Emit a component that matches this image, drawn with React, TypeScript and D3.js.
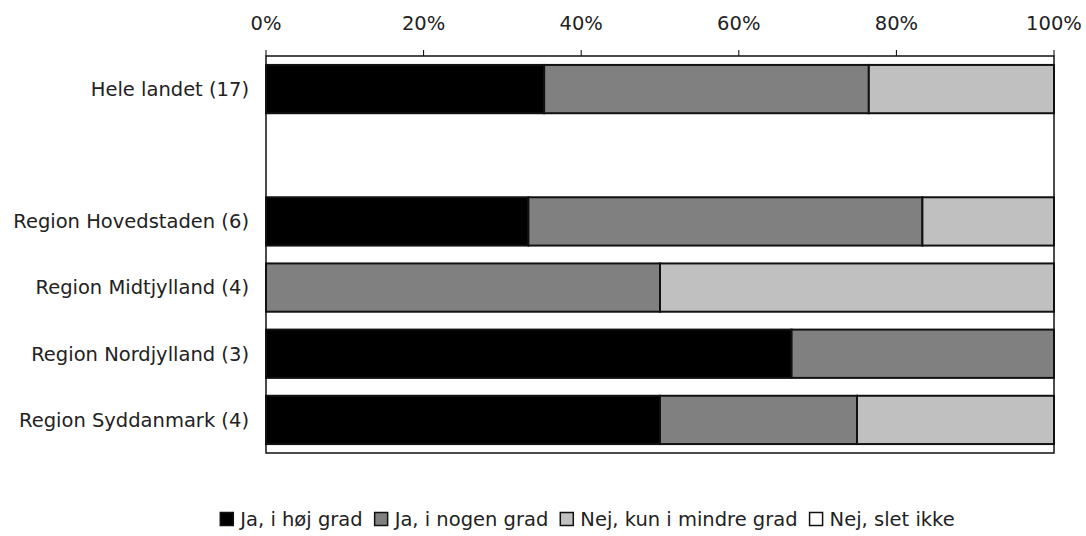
import React from "react";
import * as d3 from "d3";

const categories = ["Hele landet (17)", "", "Region Hovedstaden (6)", "Region Midtjylland (4)", "Region Nordjylland (3)", "Region Syddanmark (4)"];
const seriesNames = ["Ja, i høj grad", "Ja, i nogen grad", "Nej, kun i mindre grad", "Nej, slet ikke"];
const seriesColors = ["#000000", "#808080", "#c0c0c0", "#ffffff"];
const jaHoej = [35.3, 0, 33.3, 0, 66.7, 50];
const jaNogen = [41.2, 0, 50, 50, 33.3, 25];
const nejMindre = [23.5, 0, 16.7, 50, 0, 25];
const nejSlet = [0, 0, 0, 0, 0, 0];
const tickValues = [0, 20, 40, 60, 80, 100];

const W = 1086, H = 536;
const M = { left: 266, right: 1054, top: 56, bottom: 453 };
const FONT = "'DejaVu Sans', sans-serif";
const FS = 19.5;

function measure(s: string, size: number) {
  const c = document.createElement("canvas").getContext("2d")!;
  c.font = `${size}px 'DejaVu Sans'`;
  return c.measureText(s).width;
}

export default function App() {
  const x = d3.scaleLinear().domain([0, 100]).range([M.left, M.right]);
  const y = d3.scaleBand<number>().domain(d3.range(categories.length)).range([M.top, M.bottom]).paddingInner(0.27).paddingOuter(0.135);
  const rows = categories.map((c, i) => ({ key: i, v: [jaHoej[i], jaNogen[i], nejMindre[i], nejSlet[i]] }));
  const stack = d3.stack<any>().keys([0, 1, 2, 3] as any).value((d: any, k: any) => d.v[k]);
  const stacked = stack(rows);

  const sq = 13;
  const gapSqText = 7;
  const gapItem = 12;
  const widths = seriesNames.map((s) => sq + gapSqText + measure(s, FS));
  const total = d3.sum(widths) + gapItem * (seriesNames.length - 1);
  let lx = 587.5 - total / 2;
  const legendItems = seriesNames.map((s, i) => {
    const pos = lx;
    lx += widths[i] + gapItem;
    return { s, i, pos };
  });

  return (
    <svg width={W} height={H} style={{ position: "absolute", left: 0, top: 0, background: "#fff" }} fontFamily={FONT}>
      {tickValues.map((t) => (
        <g key={t}>
          <line x1={x(t)} x2={x(t)} y1={50} y2={M.top} stroke="#000" strokeWidth={1} />
          <text x={x(t)} y={30} textAnchor="middle" fontSize={FS} fill="#222">{t}%</text>
        </g>
      ))}
      {stacked.map((layer, si) =>
        layer.map((d, ci) => {
          const w = x(d[1]) - x(d[0]);
          if (w <= 0) return null;
          return (
            <rect key={`${si}-${ci}`} x={x(d[0])} y={y(ci)!} width={w} height={y.bandwidth()} fill={seriesColors[si]} stroke="#111" strokeWidth={2} />
          );
        })
      )}
      <rect x={M.left} y={M.top} width={M.right - M.left} height={M.bottom - M.top} fill="none" stroke="#111" strokeWidth={1.5} />
      {categories.map((c, i) => (
        <text key={i} x={249} y={y(i)! + y.bandwidth() / 2} dy="0.35em" textAnchor="end" fontSize={FS} fill="#222">{c}</text>
      ))}
      {legendItems.map(({ s, i, pos }) => (
        <g key={s}>
          <rect x={pos} y={512.5} width={sq} height={sq} fill={seriesColors[i]} stroke="#111" strokeWidth={1.5} />
          <text x={pos + sq + gapSqText} y={519} dy="0.35em" fontSize={FS} fill="#222">{s}</text>
        </g>
      ))}
    </svg>
  );
}
